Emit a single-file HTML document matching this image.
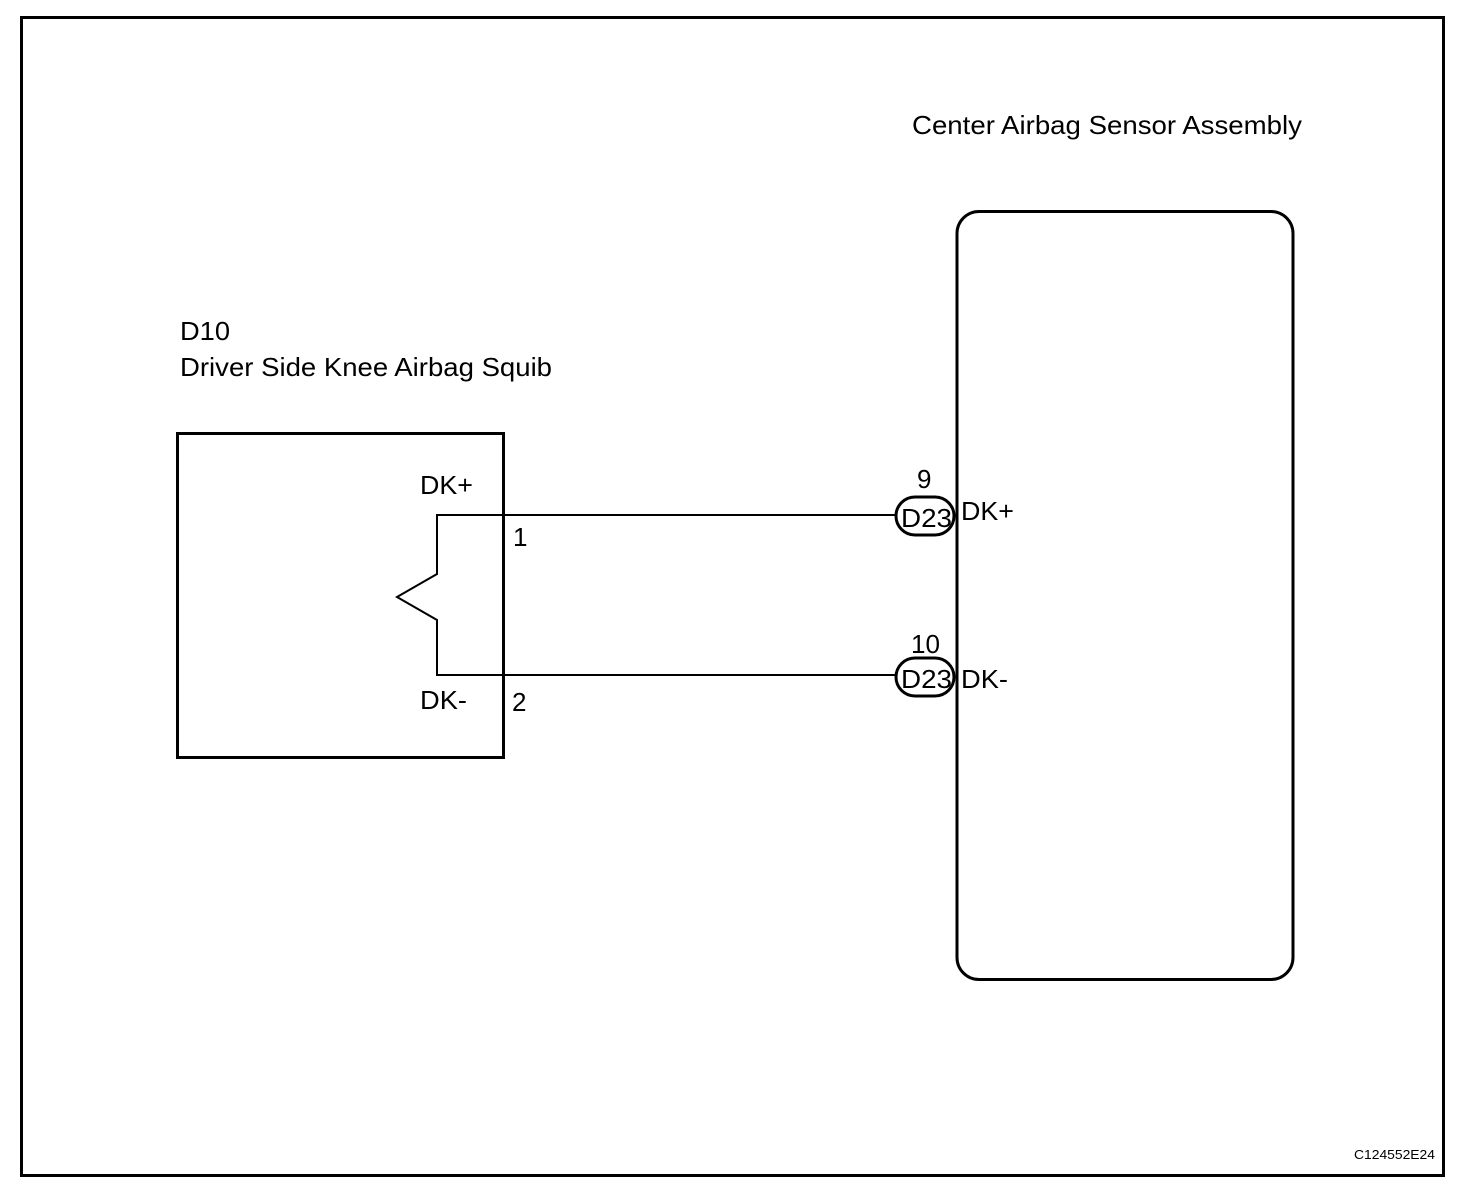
<!DOCTYPE html>
<html><head><style>html,body{margin:0;padding:0;background:#fff}svg{display:block}</style></head>
<body>
<svg width="1472" height="1190" viewBox="0 0 1472 1190" xmlns="http://www.w3.org/2000/svg" font-family="Liberation Sans, Arial, sans-serif" fill="#000">
<rect x="21.5" y="17.5" width="1422" height="1158" fill="none" stroke="#000" stroke-width="3"/>
<text x="912" y="134" font-size="26" textLength="390" lengthAdjust="spacingAndGlyphs">Center Airbag Sensor Assembly</text>
<rect x="957" y="211.5" width="336" height="768" rx="22" fill="none" stroke="#000" stroke-width="3"/>
<text x="180" y="340" font-size="26" textLength="50" lengthAdjust="spacingAndGlyphs">D10</text>
<text x="180" y="376" font-size="26" textLength="372" lengthAdjust="spacingAndGlyphs">Driver Side Knee Airbag Squib</text>
<rect x="177.5" y="433.5" width="326" height="324" fill="none" stroke="#000" stroke-width="3"/>
<polyline points="895,515 437,515 437,574 397,597 437,620 437,675 895,675" fill="none" stroke="#000" stroke-width="2"/>
<text x="420" y="494" font-size="26" textLength="53" lengthAdjust="spacingAndGlyphs">DK+</text>
<text x="420" y="709" font-size="26" textLength="47" lengthAdjust="spacingAndGlyphs">DK-</text>
<text x="513" y="546" font-size="26">1</text>
<text x="512" y="711" font-size="26">2</text>
<rect x="896" y="497" width="58" height="38" rx="19" fill="#fff" stroke="#000" stroke-width="3"/>
<text x="901" y="527" font-size="26" textLength="51" lengthAdjust="spacingAndGlyphs">D23</text>
<rect x="896" y="658" width="58" height="38" rx="19" fill="#fff" stroke="#000" stroke-width="3"/>
<text x="901" y="688" font-size="26" textLength="51" lengthAdjust="spacingAndGlyphs">D23</text>
<text x="917" y="488" font-size="26">9</text>
<text x="911" y="653" font-size="26" textLength="29" lengthAdjust="spacingAndGlyphs">10</text>
<text x="961" y="520" font-size="26" textLength="53" lengthAdjust="spacingAndGlyphs">DK+</text>
<text x="961" y="688" font-size="26" textLength="47" lengthAdjust="spacingAndGlyphs">DK-</text>
<text x="1354" y="1159" font-size="13" textLength="81" lengthAdjust="spacingAndGlyphs">C124552E24</text>
</svg>
</body></html>
